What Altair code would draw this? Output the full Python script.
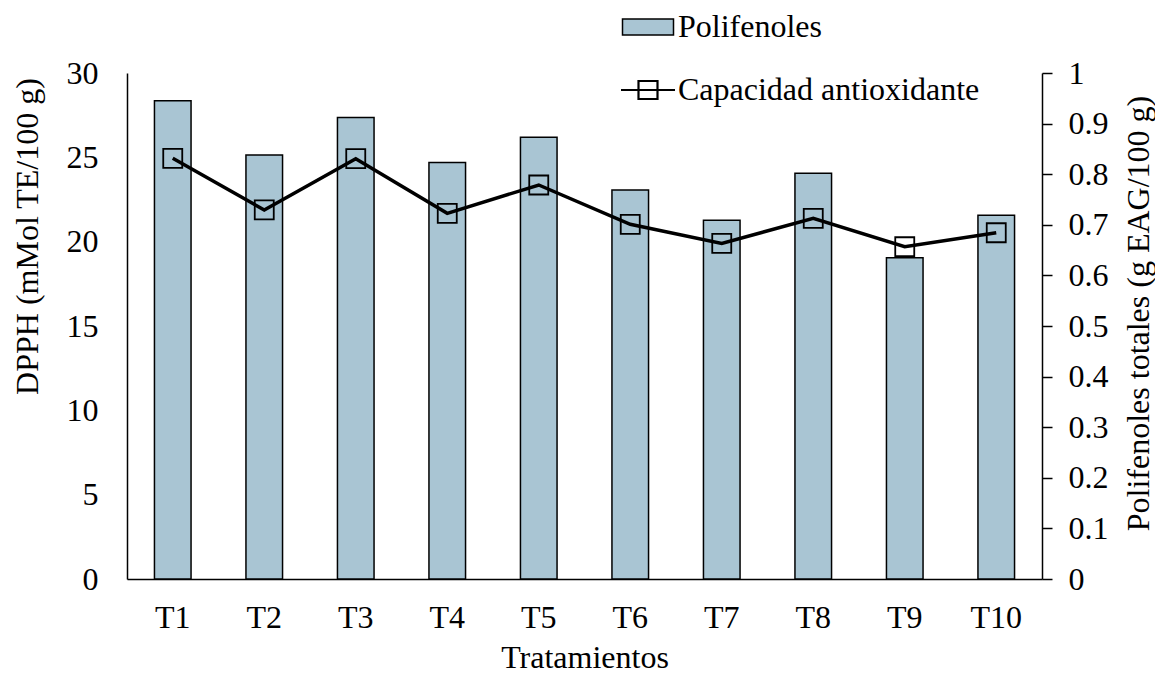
import altair as alt
import pandas as pd

tratamientos = ["T1", "T2", "T3", "T4", "T5", "T6", "T7", "T8", "T9", "T10"]
polifenoles = [0.945, 0.838, 0.912, 0.823, 0.873, 0.769, 0.709, 0.802, 0.635, 0.719]
dpph = [24.94, 21.88, 24.92, 21.68, 23.36, 21.03, 19.90, 21.38, 19.70, 20.53]

left_ticks = [0, 5, 10, 15, 20, 25, 30]
right_ticks = [0, 0.1, 0.2, 0.3, 0.4, 0.5, 0.6, 0.7, 0.8, 0.9, 1]

df = pd.DataFrame({
    "trat": tratamientos,
    "pol": polifenoles,
    "dpph": dpph,
    "sb": ["Polifenoles"] * len(tratamientos),
    "sl": ["Capacidad antioxidante"] * len(tratamientos),
})

FONT = "Liberation Serif"
FS = 32
BAR_FILL = "#a9c5d3"

x_enc = alt.X(
    "trat:N",
    sort=tratamientos,
    scale=alt.Scale(paddingInner=0.6, paddingOuter=0.3),
    axis=alt.Axis(
        title="Tratamientos", labelAngle=0, ticks=False, tickSize=0,
        domainColor="black", domainWidth=1.5, grid=False,
        labelFont=FONT, labelFontSize=FS, labelColor="black",
        labelBaseline="alphabetic", labelPadding=48,
        titleFont=FONT, titleFontSize=FS, titleFontWeight="normal",
        titleColor="black", titleBaseline="alphabetic", titleY=88,
    ),
)

bars = alt.Chart(df).mark_bar(stroke="black", strokeWidth=1.5).encode(
    x=x_enc,
    y=alt.Y(
        "pol:Q",
        scale=alt.Scale(domain=[0, 1], nice=False),
        axis=alt.Axis(
            orient="right", values=right_ticks, format=".1~f",
            title="Polifenoles totales (g EAG/100 g)", grid=False,
            domainColor="black", domainWidth=1.5,
            tickColor="black", tickWidth=1.5, tickSize=10,
            labelFont=FONT, labelFontSize=FS, labelColor="black", labelPadding=16,
            titleFont=FONT, titleFontSize=FS, titleFontWeight="normal",
            titleColor="black", titleAngle=270, titleAlign="center",
            titleBaseline="middle", titleX=96, titleY=240,
        ),
    ),
    color=alt.Color(
        "sb:N",
        scale=alt.Scale(domain=["Polifenoles"], range=[BAR_FILL]),
        legend=alt.Legend(
            orient="none", legendX=505, legendY=-62, title=None,
            symbolType="M-2.55,-0.8H2.55V0.8H-2.55Z", symbolSize=400,
            symbolStrokeColor="black", symbolStrokeWidth=1.5,
            labelFont=FONT, labelFontSize=FS, labelColor="black",
            labelOffset=14, labelLimit=0, padding=0,
        ),
    ),
)

line = alt.Chart(df).mark_line(color="black", strokeWidth=3.5).encode(
    x=x_enc,
    y=alt.Y(
        "dpph:Q",
        scale=alt.Scale(domain=[0, 30], nice=False),
        axis=alt.Axis(
            orient="left", values=left_ticks, title="DPPH  (mMol TE/100 g)",
            grid=False, ticks=False, tickSize=0,
            domainColor="black", domainWidth=1.5,
            labelFont=FONT, labelFontSize=FS, labelColor="black", labelPadding=29,
            titleFont=FONT, titleFontSize=FS, titleFontWeight="normal",
            titleColor="black", titleAngle=270, titleAlign="center",
            titleBaseline="middle", titleX=-100, titleY=163,
        ),
    ),
    stroke=alt.Stroke(
        "sl:N",
        scale=alt.Scale(domain=["Capacidad antioxidante"], range=["black"]),
        legend=alt.Legend(
            orient="none", legendX=505, legendY=1, title=None,
            symbolType="M-2.7,0H2.7M-0.95,-0.9H0.95V0.9H-0.95Z", symbolSize=400,
            symbolStrokeWidth=2.2, symbolFillColor="transparent",
            labelFont=FONT, labelFontSize=FS, labelColor="black",
            labelOffset=14, labelLimit=0, padding=0,
        ),
    ),
)

points = alt.Chart(df).mark_point(
    shape="square", size=361, filled=False, color="black", strokeWidth=1.8, opacity=1
).encode(
    x=x_enc,
    y=alt.Y("dpph:Q", scale=alt.Scale(domain=[0, 30], nice=False), axis=None),
)

chart = alt.layer(bars, line, points).resolve_scale(
    y="independent"
).properties(
    width=915,
    height=506,
    autosize=alt.AutoSizeParams(type="none"),
    padding={"left": 127, "top": 73, "right": 113, "bottom": 95},
).configure_view(stroke=None)

chart.save("out.html", embed_options={"renderer": "svg", "actions": False})
